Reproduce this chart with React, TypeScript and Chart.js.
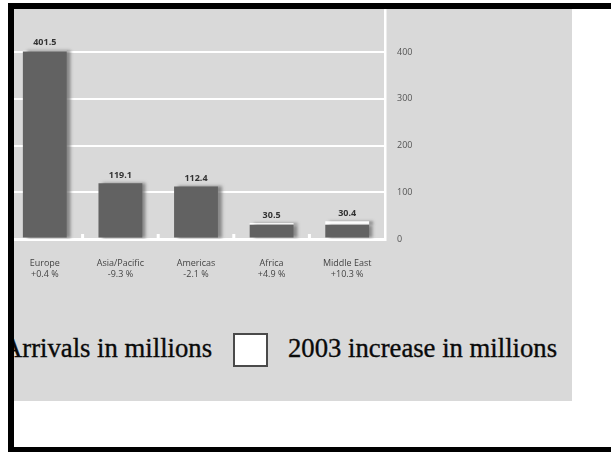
import React, { useEffect, useRef } from "react";
import { Chart, registerables } from "chart.js";

Chart.register(...registerables);

const categories = ["Europe", "Asia/Pacific", "Americas", "Africa", "Middle East"];
const changeLabels = ["+0.4 %", "-9.3 %", "-2.1 %", "+4.9 %", "+10.3 %"];
const arrivals = [401.5, 119.1, 112.4, 30.5, 30.4];
const increase = [1.6, 0, 0, 3.5, 7.5];
const yMax = 500;
const yStep = 100;
const legendLabels = ["Arrivals in millions", "2003 increase in millions"];

const FONT = "'Open Sans', 'DejaVu Sans', sans-serif";

const shadowPlugin = {
  id: "barShadow",
  beforeDatasetsDraw(chart: any) {
    const ctx = chart.ctx;
    ctx.save();
    ctx.shadowColor = "rgba(110,110,110,0.75)";
    ctx.shadowOffsetX = 4;
    ctx.shadowOffsetY = 0;
    ctx.shadowBlur = 3;
  },
  afterDatasetsDraw(chart: any) {
    chart.ctx.restore();
  },
};

const baseTicksPlugin = {
  id: "baseTicks",
  beforeDatasetsDraw(chart: any) {
    const ctx = chart.ctx;
    const x = chart.scales.x;
    const y = chart.scales.y;
    const base = y.getPixelForValue(0);
    ctx.save();
    ctx.fillStyle = "#ffffff";
    for (let i = 1; i < categories.length; i++) {
      const px = (x.getPixelForValue(i - 1) + x.getPixelForValue(i)) / 2;
      ctx.fillRect(px - 1.5, base - 5, 3, 5);
    }
    ctx.restore();
  },
};

const valueLabelPlugin = {
  id: "valueLabels",
  afterDatasetsDraw(chart: any) {
    const ctx = chart.ctx;
    const x = chart.scales.x;
    const y = chart.scales.y;
    ctx.save();
    ctx.font = `bold 9px ${FONT}`;
    ctx.fillStyle = "#333333";
    ctx.textAlign = "center";
    ctx.textBaseline = "middle";
    arrivals.forEach((v, i) => {
      const top = y.getPixelForValue(v + increase[i]);
      ctx.fillText(v.toFixed(1), x.getPixelForValue(i), top - 8);
    });
    ctx.restore();
  },
};

export default function App() {
  const ref = useRef<HTMLCanvasElement>(null);

  useEffect(() => {
    if (!ref.current) return;
    const chart = new Chart(ref.current, {
      type: "bar",
      data: {
        labels: categories.map((c, i) => [c, changeLabels[i]]),
        datasets: [
          {
            label: legendLabels[0],
            data: arrivals,
            backgroundColor: "#626262",
            borderWidth: 0,
            barPercentage: 0.58,
            categoryPercentage: 1,
          },
          {
            label: legendLabels[1],
            data: increase,
            backgroundColor: "#ffffff",
            borderWidth: 0,
            barPercentage: 0.58,
            categoryPercentage: 1,
          },
        ],
      },
      options: {
        responsive: false,
        animation: false,
        devicePixelRatio: 1,
        layout: { padding: { left: 7, top: 3, right: 0, bottom: 0 } },
        plugins: {
          legend: { display: false },
          tooltip: { enabled: false },
        },
        scales: {
          x: {
            stacked: true,
            grid: { display: false, drawTicks: false },
            border: { display: false },
            ticks: {
              color: "#444444",
              font: { family: FONT, size: 9 },
              padding: 19,
              maxRotation: 0,
              autoSkip: false,
            },
            afterFit(scale: any) {
              scale.height = 46;
            },
          },
          y: {
            stacked: true,
            position: "right",
            min: 0,
            max: yMax,
            grid: {
              color: (c: any) => (c.tick && c.tick.value >= yMax ? "rgba(0,0,0,0)" : "#ffffff"),
              lineWidth: (c: any) => (c.tick && c.tick.value === 0 ? 3 : 2),
              drawTicks: false,
            },
            border: { display: true, color: "#ffffff", width: 2.5 },
            ticks: {
              stepSize: yStep,
              color: "#555555",
              font: { family: FONT, size: 9 },
              padding: 12,
              callback: (v: any) => (Number(v) >= yMax ? "" : String(v)),
            },
            afterFit(scale: any) {
              scale.width = 45;
            },
          },
        },
      },
      plugins: [baseTicksPlugin, shadowPlugin, valueLabelPlugin],
    });
    return () => chart.destroy();
  }, []);

  const serif = "'Liberation Serif', 'Times New Roman', serif";
  const legendText: React.CSSProperties = {
    position: "absolute",
    top: 325.6,
    fontFamily: serif,
    fontSize: 26.7,
    lineHeight: 1,
    color: "#0a0a0a",
    whiteSpace: "nowrap",
    WebkitTextStroke: "0.35px #0a0a0a",
  };

  return (
    <div
      style={{
        position: "absolute",
        left: 0,
        top: 0,
        width: 611,
        height: 454,
        background: "#ffffff",
        overflow: "hidden",
      }}
    >
      <div
        style={{
          position: "absolute",
          left: 14,
          top: 9,
          width: 558,
          height: 392,
          background: "#d9d9d9",
          overflow: "hidden",
        }}
      >
        <canvas
          ref={ref}
          width={430}
          height={297}
          style={{ position: "absolute", left: -14, top: -21, width: 430, height: 297 }}
        />
        <div
          style={{
            position: "absolute",
            left: -34,
            top: 324,
            width: 20,
            height: 34,
            background: "#626262",
          }}
        />
        <span style={{ ...legendText, left: -11 }}>{legendLabels[0]}</span>
        <div
          style={{
            position: "absolute",
            left: 219,
            top: 324,
            width: 35,
            height: 34,
            boxSizing: "border-box",
            background: "#ffffff",
            border: "2px solid #4a4a4a",
          }}
        />
        <span style={{ ...legendText, left: 274 }}>{legendLabels[1]}</span>
      </div>
      <div style={{ position: "absolute", left: 8, top: 3, width: 603, height: 6, background: "#000" }} />
      <div style={{ position: "absolute", left: 8, top: 3, width: 6, height: 449, background: "#000" }} />
      <div style={{ position: "absolute", left: 8, top: 447, width: 603, height: 5, background: "#000" }} />
    </div>
  );
}
